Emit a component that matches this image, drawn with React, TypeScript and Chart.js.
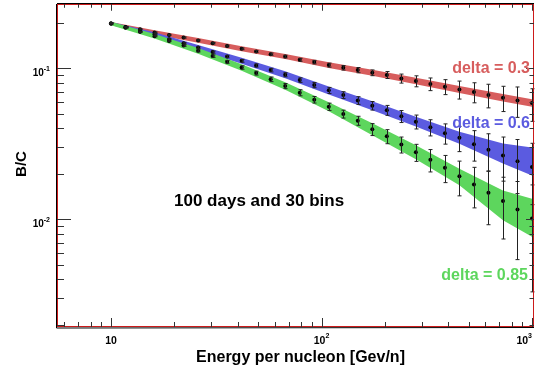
import { useEffect, useRef } from "react";
import { Chart, registerables } from "chart.js";
Chart.register(...registerables);

// Energy bins (GeV/n), 30 log bins between 10 and 1000
const energy = [10, 11.72, 13.74, 16.1, 18.87, 22.12, 25.93, 30.39, 35.62, 41.75, 48.94, 57.36, 67.23, 78.8, 92.37, 108.3, 126.9, 148.7, 174.3, 204.3, 239.5, 280.7, 329.0, 385.7, 452.0, 529.8, 621.0, 727.9, 853.2, 1000];

// Simulated B/C points
const bcDelta03 = [0.199, 0.1886, 0.1822, 0.1735, 0.167, 0.1603, 0.1536, 0.1472, 0.1408, 0.135, 0.1295, 0.1245, 0.12, 0.1142, 0.1102, 0.1053, 0.1011, 0.0976, 0.0937, 0.0906, 0.0859, 0.0825, 0.0789, 0.0757, 0.0726, 0.0698, 0.0667, 0.064, 0.0614, 0.059];
const bcDelta06 = [0.199, 0.1877, 0.1756, 0.1688, 0.1564, 0.1472, 0.1377, 0.1284, 0.12, 0.1124, 0.1047, 0.0976, 0.0909, 0.0838, 0.0777, 0.0716, 0.0667, 0.0614, 0.0567, 0.0529, 0.0482, 0.0444, 0.0407, 0.0372, 0.0347, 0.0315, 0.0289, 0.0265, 0.0243, 0.0222];
const bcDelta085 = [0.199, 0.1866, 0.175, 0.1637, 0.1524, 0.142, 0.1309, 0.1208, 0.1107, 0.1015, 0.0932, 0.0848, 0.0765, 0.0691, 0.0621, 0.0558, 0.0499, 0.0451, 0.0395, 0.0355, 0.0313, 0.0278, 0.0248, 0.022, 0.0193, 0.017, 0.015, 0.0132, 0.0116, 0.0101];

// Error bars (absolute)
const errDelta03 = [0.0015, 0.0014, 0.0014, 0.0013, 0.0013, 0.0015, 0.0014, 0.0016, 0.0017, 0.0018, 0.002, 0.0021, 0.0024, 0.0026, 0.003, 0.0032, 0.0035, 0.0039, 0.0041, 0.0048, 0.0059, 0.0069, 0.0076, 0.0086, 0.0099, 0.0106, 0.0119, 0.0122, 0.014, 0.0144];
const errDelta06 = [0.0015, 0.0014, 0.0013, 0.0015, 0.0014, 0.0016, 0.0017, 0.002, 0.0022, 0.0024, 0.0025, 0.0027, 0.0028, 0.0029, 0.0031, 0.0033, 0.0034, 0.0036, 0.0037, 0.004, 0.0044, 0.0047, 0.005, 0.0057, 0.0066, 0.0072, 0.008, 0.0086, 0.0095, 0.0097];
const errDelta085 = [0.0015, 0.0014, 0.0014, 0.0015, 0.0016, 0.0017, 0.002, 0.0022, 0.0024, 0.0026, 0.0028, 0.003, 0.003, 0.0032, 0.0031, 0.0031, 0.003, 0.0031, 0.0036, 0.0038, 0.0038, 0.0036, 0.0042, 0.0045, 0.005, 0.0051, 0.0058, 0.0058, 0.0062, 0.0068];

// Model bands
const bandEnergy = [10, 16.1, 25.93, 41.75, 67.23, 108.3, 174.3, 280.7, 452.0, 727.9, 1000];
const band03Hi = [0.2036, 0.1794, 0.1593, 0.1402, 0.1249, 0.1099, 0.098, 0.0868, 0.0766, 0.0677, 0.0626];
const band03Lo = [0.1945, 0.1678, 0.1481, 0.1299, 0.1154, 0.1009, 0.0895, 0.0785, 0.0689, 0.0605, 0.0557];
const band06Hi = [0.2036, 0.174, 0.143, 0.1177, 0.0958, 0.076, 0.0607, 0.0479, 0.038, 0.0318, 0.0299];
const band06Lo = [0.1945, 0.1637, 0.1325, 0.1074, 0.0862, 0.0673, 0.0529, 0.0412, 0.0317, 0.0234, 0.0195];
const band085Hi = [0.2045, 0.1696, 0.1366, 0.1068, 0.0811, 0.0598, 0.0433, 0.031, 0.0216, 0.0155, 0.01366];
const band085Lo = [0.1935, 0.158, 0.1254, 0.0966, 0.0722, 0.0521, 0.0361, 0.025, 0.0168, 0.00985, 0.00766];

// Axis ticks
const xMajorTicks = [10, 100, 1000];
const xMajorExp = ["", "2", "3"];
const xMinorTicks = [6, 7, 8, 9, 20, 30, 40, 50, 60, 70, 80, 90, 200, 300, 400, 500, 600, 700, 800, 900];
const yMajorTicks = [0.01, 0.1];
const yMajorExp = ["-2", "-1"];
const yMinorTicks = [0.002, 0.003, 0.004, 0.005, 0.006, 0.007, 0.008, 0.009, 0.02, 0.03, 0.04, 0.05, 0.06, 0.07, 0.08, 0.09, 0.2];

const RED = "#d75d5d";
const BLUE = "#5b5be0";
const GREEN = "#5dd65d";
const FONT = "'Liberation Sans', Arial, Helvetica, sans-serif";

const toXY = (xs: number[], ys: number[]) => xs.map((x, i) => ({ x, y: ys[i] }));

export default function App() {
  const ref = useRef<HTMLCanvasElement | null>(null);
  useEffect(() => {
    if (!ref.current) return;
    const band = (hi: number[], lo: number[], color: string, order: number) => [
      { type: "line", data: toXY(bandEnergy, hi), borderWidth: 0, pointRadius: 0, backgroundColor: color, borderColor: color, fill: "+1", order, tension: 0 },
      { type: "line", data: toXY(bandEnergy, lo), borderWidth: 0, pointRadius: 0, backgroundColor: color, borderColor: color, fill: false, order, tension: 0 },
    ];
    const pts = (ys: number[]) => ({
      type: "line", data: toXY(energy, ys), showLine: false, pointRadius: 2, pointBackgroundColor: "#000", pointBorderWidth: 0, borderColor: "#000", order: 0,
    });
    const series = [
      { ys: bcDelta03, err: errDelta03 },
      { ys: bcDelta06, err: errDelta06 },
      { ys: bcDelta085, err: errDelta085 },
    ];

    const decor = {
      id: "decor",
      afterDatasetsDraw(chart: any) {
        const ctx = chart.ctx;
        const xs = chart.scales.x, ys = chart.scales.y;
        ctx.save();
        ctx.strokeStyle = "#222";
        ctx.lineWidth = 1;
        for (const s of series) {
          s.ys.forEach((v, i) => {
            const px = Math.round(xs.getPixelForValue(energy[i])) + 0.5;
            const y1 = ys.getPixelForValue(v + s.err[i]);
            const y2 = ys.getPixelForValue(Math.max(v - s.err[i], 1e-5));
            ctx.beginPath();
            ctx.moveTo(px, y1); ctx.lineTo(px, y2);
            ctx.moveTo(px - 2, y1); ctx.lineTo(px + 2, y1);
            ctx.moveTo(px - 2, y2); ctx.lineTo(px + 2, y2);
            ctx.stroke();
          });
        }
        ctx.restore();
      },
      afterDraw(chart: any) {
        const ctx = chart.ctx;
        const a = chart.chartArea;
        const xs = chart.scales.x, ys = chart.scales.y;
        ctx.save();
        // frame
        ctx.strokeStyle = "#cc1a1a";
        ctx.lineWidth = 1;
        ctx.strokeRect(a.left + 0.5, a.top + 0.5, a.right - a.left - 1, a.bottom - a.top - 1);
        ctx.strokeStyle = "#000";
        ctx.beginPath();
        ctx.moveTo(a.left - 0.5, a.top); ctx.lineTo(a.left - 0.5, a.bottom + 1);
        ctx.lineTo(a.right, a.bottom + 0.5);
        ctx.moveTo(a.left, a.top - 0.5); ctx.lineTo(a.right, a.top - 0.5);
        ctx.stroke();
        // ticks
        ctx.strokeStyle = "#333";
        ctx.beginPath();
        const xt = (v: number, len: number) => {
          const px = Math.round(xs.getPixelForValue(v)) + 0.5;
          ctx.moveTo(px, a.bottom); ctx.lineTo(px, a.bottom - len);
          ctx.moveTo(px, a.top); ctx.lineTo(px, a.top + len * 0.75);
        };
        xMajorTicks.forEach((v) => xt(v, 9));
        xMinorTicks.forEach((v) => xt(v, 5));
        const yt = (v: number, lenL: number, lenR: number) => {
          const py = Math.round(ys.getPixelForValue(v)) + 0.5;
          ctx.moveTo(a.left, py); ctx.lineTo(a.left + lenL, py);
          ctx.moveTo(a.right, py); ctx.lineTo(a.right - lenR, py);
        };
        yMajorTicks.forEach((v) => yt(v, 14, 8));
        yMinorTicks.forEach((v) => yt(v, 7, 4.5));
        ctx.stroke();
        // tick labels
        ctx.fillStyle = "#000";
        ctx.textBaseline = "alphabetic";
        xMajorTicks.forEach((v, i) => {
          ctx.font = `bold 10.5px ${FONT}`;
          const wb = ctx.measureText("10").width;
          ctx.font = `bold 7px ${FONT}`;
          const we = ctx.measureText(xMajorExp[i]).width;
          let left = xs.getPixelForValue(v) - (wb + we) / 2;
          if (left + wb + we > a.right - 2) left = a.right - 2 - wb - we;
          ctx.textAlign = "left";
          ctx.font = `bold 10.5px ${FONT}`;
          ctx.fillText("10", left, a.bottom + 16.5);
          ctx.font = `bold 7px ${FONT}`;
          ctx.fillText(xMajorExp[i], left + wb, a.bottom + 10.5);
        });
        yMajorTicks.forEach((v, i) => {
          const py = ys.getPixelForValue(v);
          ctx.font = `bold 7px ${FONT}`;
          const we = ctx.measureText(yMajorExp[i]).width;
          ctx.textAlign = "right";
          ctx.fillText(yMajorExp[i], 50, py + 2.5);
          ctx.font = `bold 10px ${FONT}`;
          ctx.fillText("10", 50 - we, py + 7.5);
        });
        // axis titles
        ctx.font = `bold 16px ${FONT}`;
        ctx.textAlign = "center";
        ctx.fillText("Energy per nucleon [Gev/n]", 300.5, 362);
        ctx.save();
        ctx.translate(25.5, 164);
        ctx.rotate(-Math.PI / 2);
        ctx.font = `bold 15px ${FONT}`;
        ctx.fillText("B/C", 0, 0);
        ctx.restore();
        // annotations
        ctx.font = `bold 16px ${FONT}`;
        ctx.textAlign = "right";
        ctx.fillStyle = RED;
        ctx.fillText("delta = 0.3", 530, 72.5);
        ctx.fillStyle = BLUE;
        ctx.fillText("delta = 0.6", 530, 128);
        ctx.fillStyle = GREEN;
        ctx.fillText("delta = 0.85", 528, 279.5);
        ctx.fillStyle = "#000";
        ctx.textAlign = "left";
        ctx.font = `bold 17px ${FONT}`;
        ctx.fillText("100 days and 30 bins", 174, 206);
        ctx.restore();
      },
    };

    const chart = new Chart(ref.current, {
      type: "line",
      data: {
        datasets: [
          ...band(band03Hi, band03Lo, RED, 3),
          ...band(band06Hi, band06Lo, BLUE, 2),
          ...band(band085Hi, band085Lo, GREEN, 1),
          pts(bcDelta03), pts(bcDelta06), pts(bcDelta085),
        ] as any,
      },
      options: {
        animation: false,
        responsive: false,
        layout: { padding: { left: 57, top: 3, right: 8, bottom: 44 } },
        plugins: { legend: { display: false }, tooltip: { enabled: false } },
        scales: {
          x: { type: "logarithmic", min: 5.54, max: 1022, display: false },
          y: { type: "logarithmic", min: 0.00193, max: 0.2677, display: false },
        },
      },
      plugins: [decor],
    });
    return () => chart.destroy();
  }, []);
  return (
    <canvas ref={ref} width={542} height={371} style={{ position: "fixed", left: 0, top: 0, width: 542, height: 371 }} />
  );
}
